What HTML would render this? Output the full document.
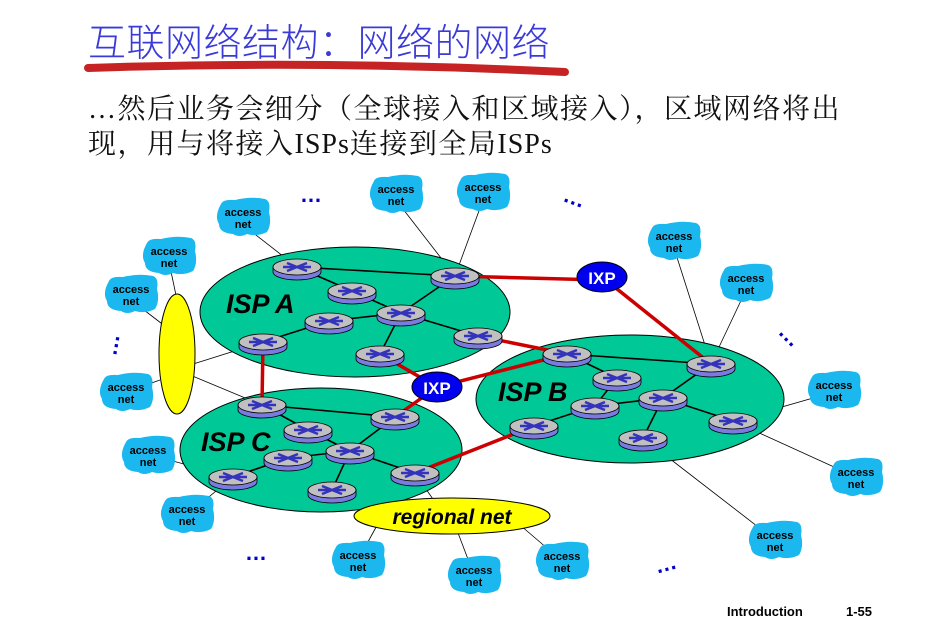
<!DOCTYPE html>
<html><head><meta charset="utf-8"><style>
body{margin:0;background:#fff;width:929px;height:624px;overflow:hidden;position:relative;font-family:"Liberation Serif","Noto Serif CJK SC",serif}
.t{position:absolute;left:88px;top:12px;font-size:38px;color:#3a3ad8;font-family:"Noto Sans CJK SC",sans-serif;letter-spacing:0.5px;font-weight:300;white-space:nowrap}
.b{position:absolute;left:88px;top:91px;font-size:28px;line-height:33px;color:#111;font-family:"Noto Serif CJK SC",serif;white-space:nowrap;letter-spacing:1.5px}
.b .l{font-family:"Liberation Serif",serif}
.b .s{font-family:"Liberation Serif",serif;letter-spacing:1px}
svg{position:absolute;left:0;top:0}
</style></head><body>
<div class="t">互联网络结构：网络的网络</div>
<div class="b"><span class="l">…</span>然后业务会细分（全球接入和区域接入），区域网络将出<br>现，用与将接入<span class="s">ISPs</span>连接到全局<span class="s">ISPs</span></div>
<svg width="929" height="624" viewBox="0 0 929 624" font-family="Liberation Sans, sans-serif">
<defs>
<g id="r"><path d="M-24,0 v5 a24,8 0 0 0 48,0 v-5 z" fill="#7a7ae0" stroke="#000" stroke-width="0.8"/><ellipse cx="0" cy="0" rx="24" ry="8" fill="#c0c0c0" stroke="#000" stroke-width="0.8"/><path d="M-10,-4 L10,4 M-10,4 L10,-4 M-14,0 h28" stroke="#3333bb" stroke-width="2.5"/></g>
<g id="c"><path d="M-22,-14 Q-20,-19 -8,-18 Q8,-22 22,-19 Q28,-17 26,-6 Q29,6 24,14 Q14,19 4,16 Q-4,20 -10,16 Q-24,15 -24,6 Q-29,-2 -22,-14z" fill="#1ab8ee"/></g>
</defs>
<path d="M88,68 Q320,60 565,72" stroke="#c62424" stroke-width="8" fill="none" stroke-linecap="round"/>
<g stroke="#000" stroke-width="0.8">
<line x1="243" y1="225" x2="297" y2="267"/><line x1="396" y1="200" x2="455" y2="276"/><line x1="483" y1="200" x2="455" y2="276"/>
<line x1="169" y1="262" x2="177" y2="300"/><line x1="131" y1="300" x2="170" y2="330"/><line x1="190" y1="365" x2="263" y2="342"/>
<line x1="126" y1="392" x2="160" y2="380"/><line x1="190" y1="375" x2="262" y2="405"/>
<line x1="150" y1="455" x2="233" y2="477"/><line x1="187" y1="515" x2="233" y2="477"/>
<line x1="674" y1="248" x2="711" y2="364"/><line x1="746" y1="290" x2="711" y2="364"/>
<line x1="834" y1="392" x2="733" y2="421"/><line x1="856" y1="477" x2="733" y2="421"/><line x1="775" y1="540" x2="643" y2="438"/>
<line x1="358" y1="560" x2="380" y2="520"/><line x1="474" y1="575" x2="455" y2="525"/><line x1="562" y1="561" x2="520" y2="525"/><line x1="415" y1="473" x2="437" y2="505"/>
</g>
<ellipse cx="355" cy="312" rx="155" ry="65" fill="#00c896" stroke="#000"/>
<ellipse cx="630" cy="399" rx="154" ry="64" fill="#00c896" stroke="#000"/>
<ellipse cx="321" cy="450" rx="141" ry="62" fill="#00c896" stroke="#000"/>
<ellipse cx="177" cy="354" rx="18" ry="60" fill="#ffff00" stroke="#000"/>
<ellipse cx="452" cy="516" rx="98" ry="18" fill="#ffff00" stroke="#000"/>
<text x="452" y="524" font-size="21" font-weight="bold" font-style="italic" text-anchor="middle">regional net</text>
<g font-size="27" font-weight="bold" font-style="italic"><text x="226" y="313">ISP A</text><text x="498" y="401">ISP B</text><text x="201" y="451">ISP C</text></g>
<g stroke="#000" stroke-width="1.6">
<line x1="297" y1="267" x2="455" y2="276"/><line x1="297" y1="267" x2="352" y2="291"/><line x1="352" y1="291" x2="401" y2="313"/><line x1="401" y1="313" x2="455" y2="276"/><line x1="401" y1="313" x2="329" y2="321"/><line x1="329" y1="321" x2="263" y2="342"/><line x1="401" y1="313" x2="478" y2="336"/><line x1="401" y1="313" x2="380" y2="354"/>
<line x1="567" y1="354" x2="711" y2="364"/><line x1="567" y1="354" x2="617" y2="378"/><line x1="617" y1="378" x2="595" y2="406"/><line x1="595" y1="406" x2="534" y2="426"/><line x1="595" y1="406" x2="663" y2="398"/><line x1="663" y1="398" x2="711" y2="364"/><line x1="663" y1="398" x2="733" y2="421"/><line x1="663" y1="398" x2="643" y2="438"/>
<line x1="262" y1="405" x2="395" y2="417"/><line x1="262" y1="405" x2="308" y2="430"/><line x1="308" y1="430" x2="350" y2="451"/><line x1="350" y1="451" x2="395" y2="417"/><line x1="288" y1="458" x2="350" y2="451"/><line x1="288" y1="458" x2="233" y2="477"/><line x1="350" y1="451" x2="415" y2="473"/><line x1="350" y1="451" x2="332" y2="490"/>
</g>
<g stroke="#cc0000" stroke-width="3.5">
<line x1="455" y1="276" x2="602" y2="280"/><line x1="602" y1="277" x2="711" y2="364"/><line x1="478" y1="336" x2="567" y2="354"/><line x1="380" y1="354" x2="437" y2="387"/><line x1="437" y1="387" x2="567" y2="354"/><line x1="437" y1="387" x2="395" y2="417"/><line x1="263" y1="342" x2="262" y2="405"/><line x1="415" y1="473" x2="534" y2="426"/>
</g>
<g>
<use href="#r" x="297" y="267"/><use href="#r" x="455" y="276"/><use href="#r" x="352" y="291"/><use href="#r" x="401" y="313"/><use href="#r" x="329" y="321"/><use href="#r" x="263" y="342"/><use href="#r" x="478" y="336"/><use href="#r" x="380" y="354"/>
<use href="#r" x="567" y="354"/><use href="#r" x="711" y="364"/><use href="#r" x="617" y="378"/><use href="#r" x="663" y="398"/><use href="#r" x="595" y="406"/><use href="#r" x="534" y="426"/><use href="#r" x="733" y="421"/><use href="#r" x="643" y="438"/>
<use href="#r" x="262" y="405"/><use href="#r" x="395" y="417"/><use href="#r" x="308" y="430"/><use href="#r" x="350" y="451"/><use href="#r" x="288" y="458"/><use href="#r" x="233" y="477"/><use href="#r" x="415" y="473"/><use href="#r" x="332" y="490"/>
</g>
<ellipse cx="602" cy="277" rx="25" ry="15" fill="#0000ee" stroke="#000"/><text x="602" y="284" font-size="17" font-weight="bold" fill="#fff" text-anchor="middle">IXP</text>
<ellipse cx="437" cy="387" rx="25" ry="15" fill="#0000ee" stroke="#000"/><text x="437" y="394" font-size="17" font-weight="bold" fill="#fff" text-anchor="middle">IXP</text>
<g font-size="11" font-weight="bold" text-anchor="middle">
<g transform="translate(243,218)"><use href="#c"/><text y="-2">access</text><text y="10">net</text></g>
<g transform="translate(169,257)"><use href="#c"/><text y="-2">access</text><text y="10">net</text></g>
<g transform="translate(131,295)"><use href="#c"/><text y="-2">access</text><text y="10">net</text></g>
<g transform="translate(396,195)"><use href="#c"/><text y="-2">access</text><text y="10">net</text></g>
<g transform="translate(483,193)"><use href="#c"/><text y="-2">access</text><text y="10">net</text></g>
<g transform="translate(674,242)"><use href="#c"/><text y="-2">access</text><text y="10">net</text></g>
<g transform="translate(746,284)"><use href="#c"/><text y="-2">access</text><text y="10">net</text></g>
<g transform="translate(126,393)"><use href="#c"/><text y="-2">access</text><text y="10">net</text></g>
<g transform="translate(148,456)"><use href="#c"/><text y="-2">access</text><text y="10">net</text></g>
<g transform="translate(187,515)"><use href="#c"/><text y="-2">access</text><text y="10">net</text></g>
<g transform="translate(358,561)"><use href="#c"/><text y="-2">access</text><text y="10">net</text></g>
<g transform="translate(474,576)"><use href="#c"/><text y="-2">access</text><text y="10">net</text></g>
<g transform="translate(562,562)"><use href="#c"/><text y="-2">access</text><text y="10">net</text></g>
<g transform="translate(775,541)"><use href="#c"/><text y="-2">access</text><text y="10">net</text></g>
<g transform="translate(856,478)"><use href="#c"/><text y="-2">access</text><text y="10">net</text></g>
<g transform="translate(834,391)"><use href="#c"/><text y="-2">access</text><text y="10">net</text></g>
</g>
<g fill="#0000cc" font-size="22" font-weight="bold">
<text x="300" y="202">…</text><text x="562" y="206" transform="rotate(20 577 203)">…</text><text x="245" y="560">…</text><text x="655" y="570" transform="rotate(-15 670 565)">…</text>
<text x="102" y="350" transform="rotate(-80 113 345)">…</text><text x="776" y="344" transform="rotate(45 790 340)">…</text>
</g>
<text x="727" y="616" font-size="13" font-weight="bold">Introduction</text><text x="846" y="616" font-size="13" font-weight="bold">1-55</text>
</svg>
</body></html>
